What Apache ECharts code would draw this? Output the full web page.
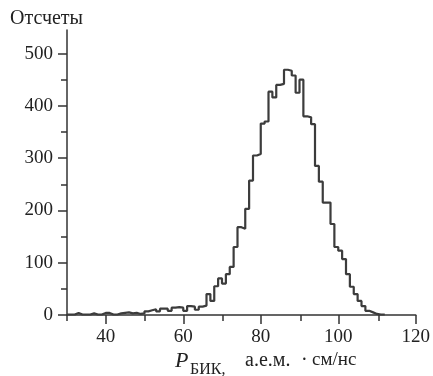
<!DOCTYPE html>
<html><head><meta charset="utf-8">
<script src="https://cdn.jsdelivr.net/npm/echarts@6/dist/echarts.min.js"></script>
<style>html,body{margin:0;padding:0;background:#fff}#c{width:433px;height:376px}</style>
</head><body><div id="c"></div>
<script>
// bin left edges (a.e.m.·cm/ns) and counts
var binEdges = [30,31,32,33,34,35,36,37,38,39,40,41,42,43,44,45,46,47,48,49,50,51,52,53,54,55,56,57,58,59,60,61,62,63,64,65,66,67,68,69,70,71,72,73,74,75,76,77,78,79,80,81,82,83,84,85,86,87,88,89,90,91,92,93,94,95,96,97,98,99,100,101,102,103,104,105,106,107,108,109,110,111,112];
var counts = [1,1,4,1,1,1,3,1,1,4,4,1,1,3,4,5,3,4,2,3,7,9,11,7,12,12,8,14,15,14,8,17,16,10,16,18,40,27,55,70,60,78,92,130,168,165,203,257,305,308,366,370,427,416,440,442,469,467,458,425,450,380,378,365,285,255,215,215,174,130,123,107,78,54,40,27,17,8,5,2,1,1];
var xMajorTicks = [40,60,80,100,120];
var xMinorTicks = [30,50,70,90,110];
var yMajorTicks = [0,100,200,300,400,500];
var yMinorTicks = [50,150,250,350,450];
var yTitle = 'Отсчеты';

var data = [];
for (var i = 0; i < counts.length; i++) data.push([binEdges[i], counts[i]]);
data.push([binEdges[counts.length], counts[counts.length - 1]]);

var FONT = "'Liberation Serif','DejaVu Serif',serif";
var gridRect = {left: 67, right: 15, top: 30, bottom: 61};
var axisCol = '#333';
var chart = echarts.init(document.getElementById('c'));
chart.setOption({
  animation: false,
  backgroundColor: '#fff',
  grid: [Object.assign({}, gridRect), Object.assign({}, gridRect)],
  xAxis: [{
    gridIndex: 0, type: 'value', min: 30, max: 120,
    axisLine: {lineStyle: {color: axisCol, width: 1.5}},
    axisTick: {customValues: xMajorTicks, length: 9, lineStyle: {color: axisCol, width: 1.5}},
    axisLabel: {customValues: xMajorTicks, margin: 13, color: '#222', fontFamily: FONT, fontSize: 19},
    splitLine: {show: false}
  }, {
    gridIndex: 1, type: 'value', min: 30, max: 120,
    axisLine: {show: false},
    axisTick: {customValues: xMinorTicks, length: 6, lineStyle: {color: axisCol, width: 1.5}},
    axisLabel: {show: false}, splitLine: {show: false}
  }],
  yAxis: [{
    gridIndex: 0, type: 'value', min: 0, max: 545,
    axisLine: {show: true, lineStyle: {color: axisCol, width: 1.5}},
    axisTick: {show: true, customValues: yMajorTicks, length: 9, lineStyle: {color: axisCol, width: 1.5}},
    axisLabel: {customValues: yMajorTicks, margin: 14, color: '#222', fontFamily: FONT, fontSize: 19},
    splitLine: {show: false}
  }, {
    gridIndex: 1, type: 'value', min: 0, max: 545,
    axisLine: {show: false},
    axisTick: {show: true, customValues: yMinorTicks, length: 6, lineStyle: {color: axisCol, width: 1.5}},
    axisLabel: {show: false}, splitLine: {show: false}
  }],
  series: [{
    type: 'line', xAxisIndex: 0, yAxisIndex: 0, step: 'end', data: data,
    showSymbol: false, symbol: 'none',
    lineStyle: {color: '#3c3c3c', width: 2.2}
  }],
  graphic: [
    {type: 'text', left: 10, top: 9, style: {text: yTitle, font: '20px ' + FONT, fill: '#222'}},
    {type: 'text', left: 175, top: 350, style: {text: 'P', font: 'italic 22px ' + FONT, fill: '#222'}},
    {type: 'text', left: 190, top: 362, style: {text: 'БИК,', font: '16px ' + FONT, fill: '#222'}},
    {type: 'text', left: 245, top: 351, style: {text: 'а.е.м.', font: '20px ' + FONT, fill: '#222'}},
    {type: 'text', left: 301, top: 351, style: {text: '·', font: '20px ' + FONT, fill: '#222'}},
    {type: 'text', left: 312, top: 351, style: {text: 'см/нс', font: '19px ' + FONT, fill: '#222'}}
  ]
});
</script></body></html>
